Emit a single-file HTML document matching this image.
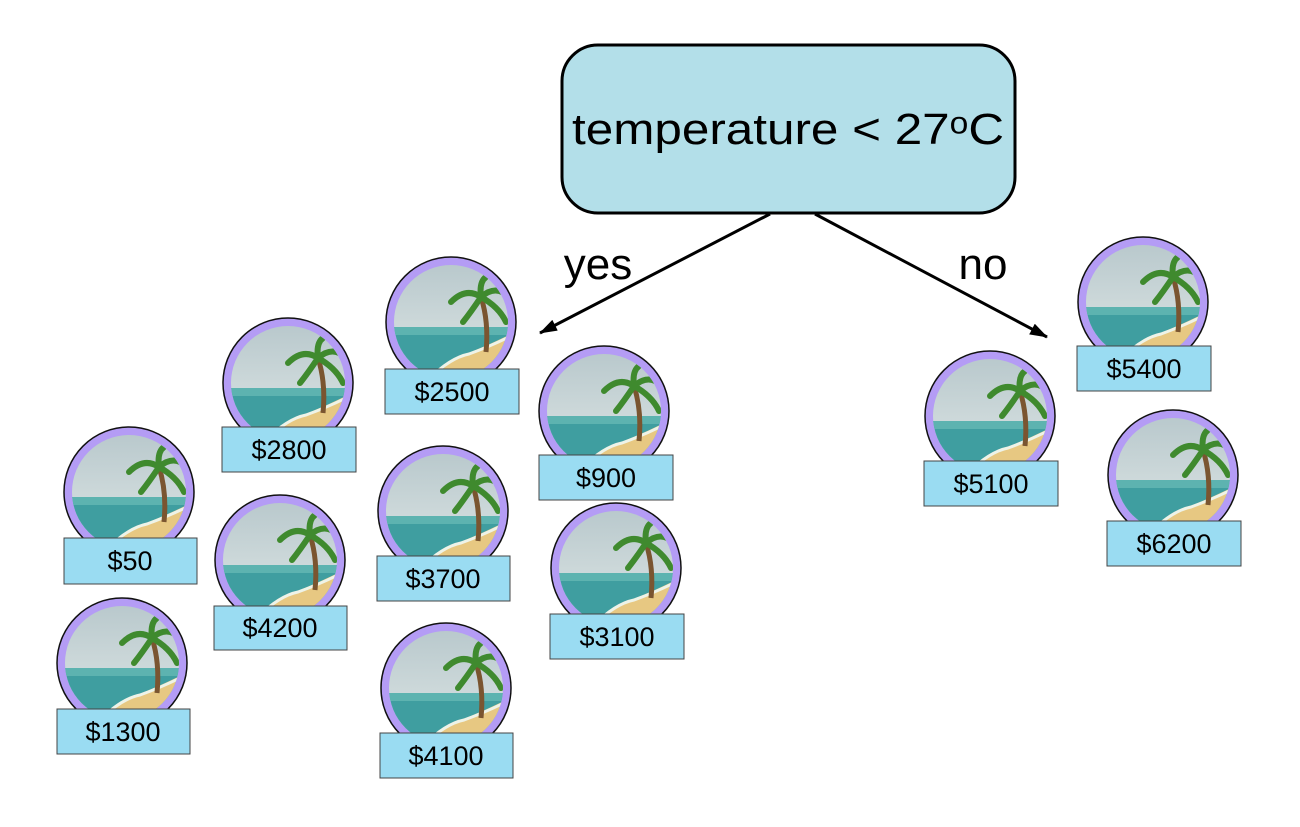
<!DOCTYPE html>
<html><head><meta charset="utf-8"><style>
html,body{margin:0;padding:0;background:#fff;}
svg{display:block;font-family:"Liberation Sans",Arial,sans-serif;}
</style></head><body>
<svg width="1300" height="827" viewBox="0 0 1300 827" xmlns="http://www.w3.org/2000/svg">
<defs>
<linearGradient id="sky" x1="0" y1="0" x2="0" y2="1">
<stop offset="0" stop-color="#b8c8cc"/><stop offset="1" stop-color="#dfe7e6"/></linearGradient>
<clipPath id="cc"><circle cx="0" cy="0" r="57"/></clipPath>
<g id="node">
<circle cx="0" cy="0" r="65" fill="#b49cf5" stroke="#111" stroke-width="1.5"/>
<g clip-path="url(#cc)">
<rect x="-60" y="-60" width="120" height="120" fill="url(#sky)"/>
<rect x="-60" y="5" width="120" height="60" fill="#3f9ea0"/>
<rect x="-60" y="5" width="120" height="8" fill="#5db3b0"/>
<path d="M-20 60 Q0 35 20 30 Q40 22 60 12 L60 60 Z" fill="#e7c882"/>
<path d="M-25 60 Q-2 36 18 32 Q40 24 60 14" fill="none" stroke="#eef3e8" stroke-width="3"/>
<path d="M35 30 Q38 0 30 -25" stroke="#7a5530" stroke-width="5" fill="none"/>
<path d="M30 -25 Q15 -35 0 -20 M30 -25 Q20 -10 12 0 M30 -25 Q45 -38 58 -25 M30 -25 Q48 -15 55 0 M30 -25 Q28 -40 35 -45" stroke="#3f8a2e" stroke-width="6" fill="none" stroke-linecap="round"/>
</g>
</g>
<marker id="ah" markerWidth="18" markerHeight="12" refX="17" refY="6" orient="auto" markerUnits="userSpaceOnUse">
<path d="M0 0 L18 6 L0 12 Z" fill="#000"/></marker>
</defs>

<rect x="562" y="45" width="453" height="168" rx="36" fill="#b3dfe9" stroke="#000" stroke-width="3"/>
<text x="788" y="144" font-size="44" text-anchor="middle" textLength="432" lengthAdjust="spacingAndGlyphs">temperature &lt; 27ᵒC</text>

<line x1="770" y1="214" x2="540" y2="333" stroke="#000" stroke-width="3" marker-end="url(#ah)"/>
<line x1="815" y1="214" x2="1047" y2="337" stroke="#000" stroke-width="3" marker-end="url(#ah)"/>
<text x="598" y="279" font-size="44" text-anchor="middle">yes</text>
<text x="983" y="279" font-size="44" text-anchor="middle">no</text>

<g font-size="27" text-anchor="middle">
<use href="#node" x="451" y="322"/><rect x="385" y="369" width="134" height="45" fill="#9adcf2" stroke="#444"/><text x="452" y="401">$2500</text>
<use href="#node" x="288" y="383"/><rect x="222" y="427" width="134" height="45" fill="#9adcf2" stroke="#444"/><text x="289" y="459">$2800</text>
<use href="#node" x="129" y="492"/><rect x="64" y="538" width="133" height="46" fill="#9adcf2" stroke="#444"/><text x="130" y="570">$50</text>
<use href="#node" x="122" y="663"/><rect x="57" y="709" width="133" height="45" fill="#9adcf2" stroke="#444"/><text x="123" y="741">$1300</text>
<use href="#node" x="280" y="560"/><rect x="214" y="606" width="133" height="44" fill="#9adcf2" stroke="#444"/><text x="280" y="637">$4200</text>
<use href="#node" x="443" y="511"/><rect x="377" y="556" width="133" height="45" fill="#9adcf2" stroke="#444"/><text x="443" y="588">$3700</text>
<use href="#node" x="446" y="688"/><rect x="380" y="733" width="133" height="45" fill="#9adcf2" stroke="#444"/><text x="446" y="765">$4100</text>
<use href="#node" x="604" y="411"/><rect x="539" y="455" width="134" height="45" fill="#9adcf2" stroke="#444"/><text x="606" y="487">$900</text>
<use href="#node" x="616" y="568"/><rect x="550" y="614" width="134" height="45" fill="#9adcf2" stroke="#444"/><text x="617" y="646">$3100</text>
<use href="#node" x="990" y="416"/><rect x="924" y="461" width="134" height="45" fill="#9adcf2" stroke="#444"/><text x="991" y="493">$5100</text>
<use href="#node" x="1143" y="302"/><rect x="1077" y="346" width="134" height="45" fill="#9adcf2" stroke="#444"/><text x="1144" y="378">$5400</text>
<use href="#node" x="1173" y="475"/><rect x="1107" y="521" width="134" height="45" fill="#9adcf2" stroke="#444"/><text x="1174" y="553">$6200</text>
</g>
</svg>
</body></html>
